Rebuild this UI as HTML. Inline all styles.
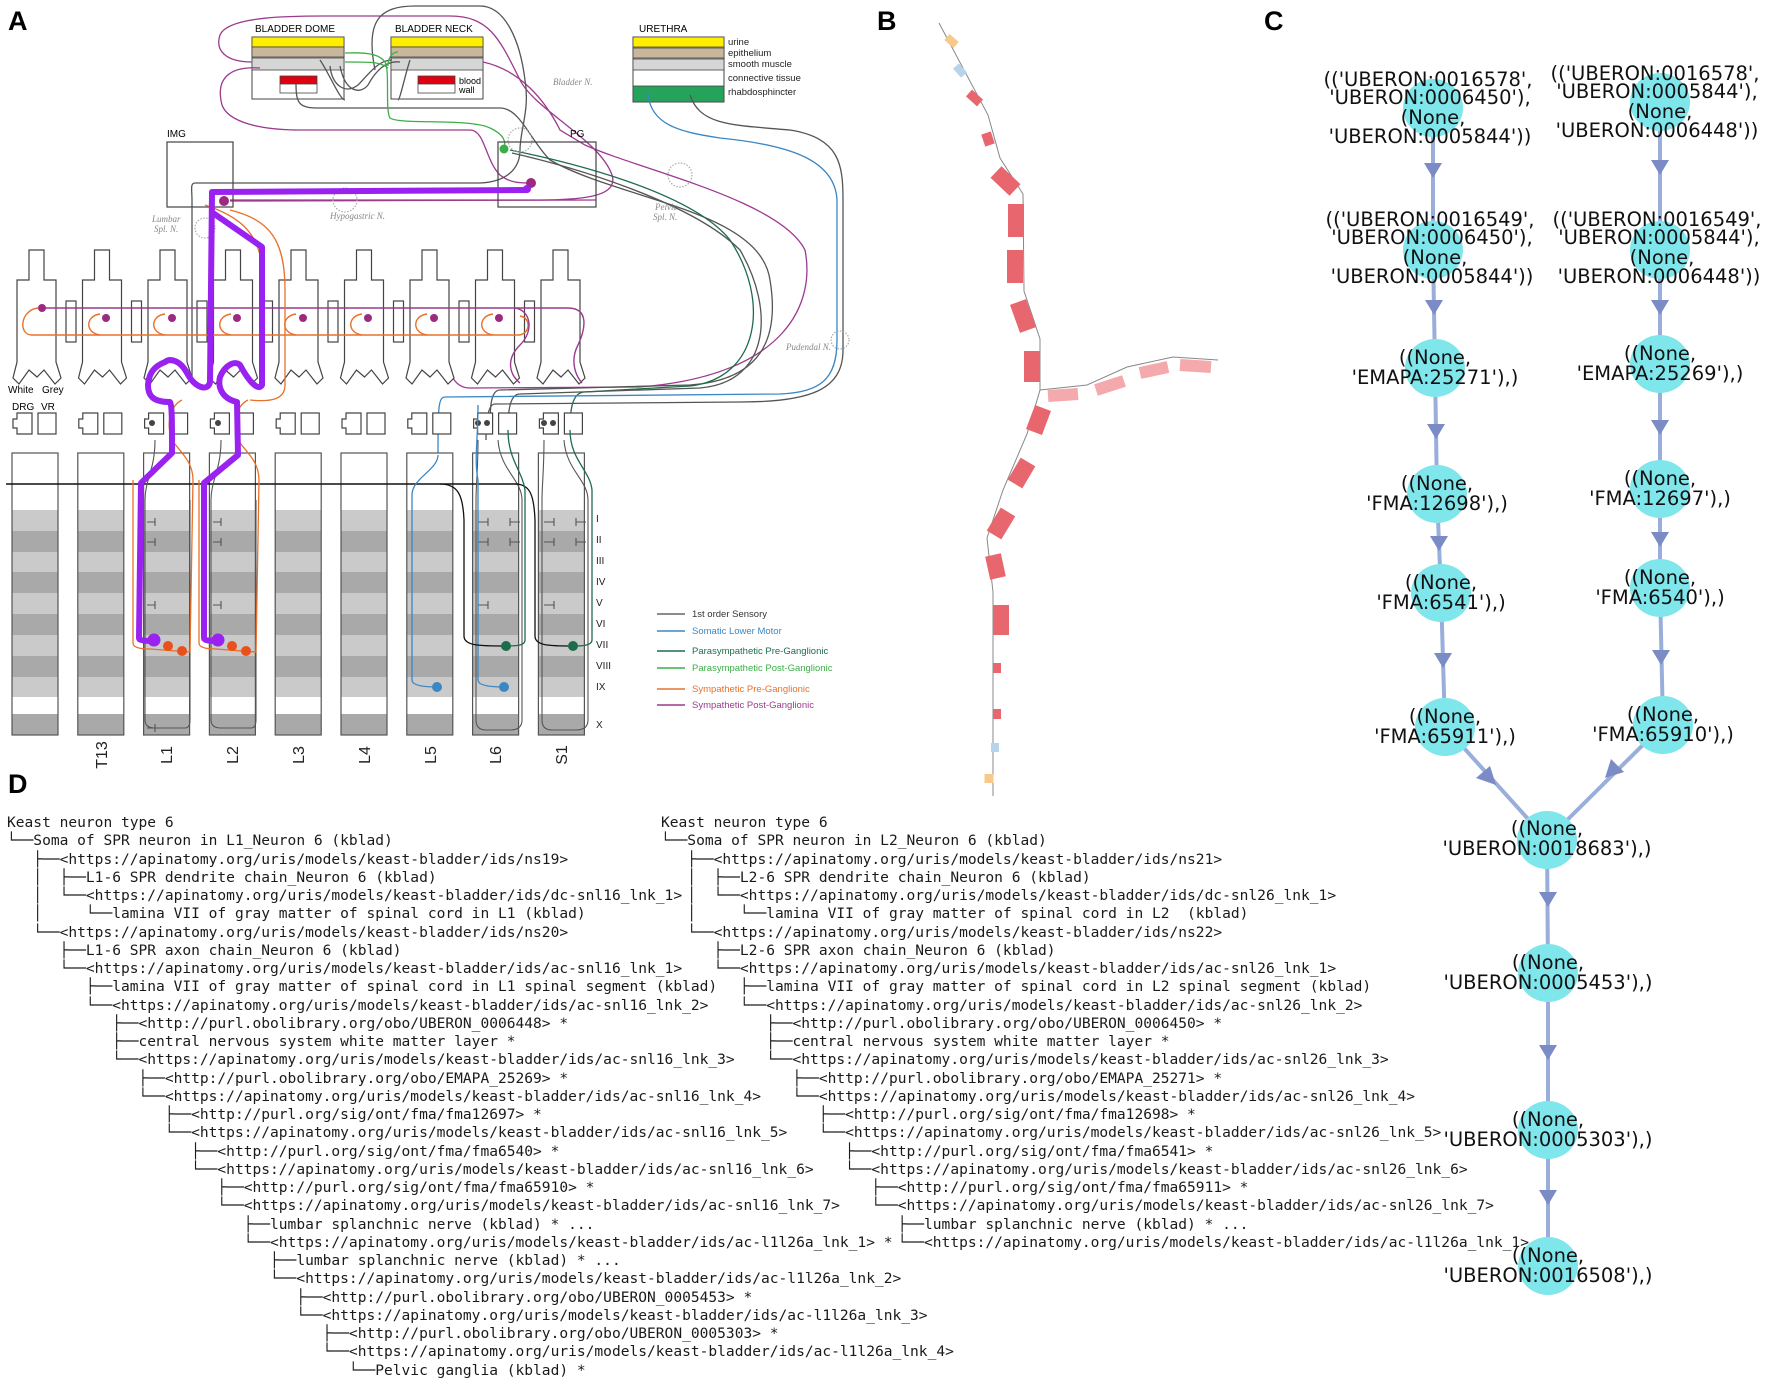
<!DOCTYPE html>
<html><head><meta charset="utf-8">
<style>
html,body{margin:0;padding:0;background:#fff;}
body{width:1772px;height:1385px;position:relative;overflow:hidden;}
svg{position:absolute;left:0;top:0;}
pre{position:absolute;margin:0;font-family:"DejaVu Sans Mono","Liberation Mono",monospace;font-size:14.57px;line-height:18.25px;color:#1a1a1a;}
</style></head><body>
<svg width="1772" height="1385" viewBox="0 0 1772 1385" xmlns="http://www.w3.org/2000/svg" font-family="Liberation Sans, DejaVu Sans, sans-serif">
<defs>
<g id="col">
<rect x="0" y="453" width="46" height="282" fill="#fff"/>
<rect x="0" y="510" width="46" height="21" fill="#cacaca"/>
<rect x="0" y="531" width="46" height="21" fill="#a9a9a9"/>
<rect x="0" y="552" width="46" height="20" fill="#cacaca"/>
<rect x="0" y="572" width="46" height="21" fill="#a9a9a9"/>
<rect x="0" y="593" width="46" height="21" fill="#cacaca"/>
<rect x="0" y="614" width="46" height="21" fill="#a9a9a9"/>
<rect x="0" y="635" width="46" height="21" fill="#cacaca"/>
<rect x="0" y="656" width="46" height="21" fill="#a9a9a9"/>
<rect x="0" y="677" width="46" height="20" fill="#cacaca"/>
<rect x="0" y="714" width="46" height="21" fill="#a9a9a9"/>
<rect x="0" y="453" width="46" height="282" fill="none" stroke="#555" stroke-width="1.2"/>
</g>
<path id="seg" d="M12,250 H27 V280 H39 V362 L44,378 L38,384 L27,370 L20,377 L12,370 L2,384 L-4,378 L0,362 V280 H12 Z" fill="#fff" stroke="#444" stroke-width="1.2"/>
<g id="drg">
<path d="M5,413 H20 V434 H5 V428 H1 V419 H5 Z" fill="#fff" stroke="#444" stroke-width="1.2"/>
<rect x="26" y="413" width="18" height="21" fill="#fff" stroke="#444" stroke-width="1.2"/>
</g>
</defs>

<text x="8" y="30" font-size="27" font-weight="bold">A</text>
<text x="877" y="30" font-size="27" font-weight="bold">B</text>
<text x="1264" y="30" font-size="27" font-weight="bold">C</text>
<text x="8" y="793" font-size="27" font-weight="bold">D</text>

<!-- ========== PANEL A ========== -->
<text x="255" y="32" font-size="10">BLADDER DOME</text>
<rect x="252" y="37" width="92" height="62" fill="#fff" stroke="#444"/>
<rect x="252" y="37" width="92" height="10" fill="#ffee00" stroke="#444" stroke-width="0.8"/>
<rect x="252" y="47" width="92" height="10" fill="#c8b79a" stroke="#444" stroke-width="0.8"/>
<rect x="252" y="58" width="92" height="12" fill="#d6d6d6" stroke="#444" stroke-width="0.8"/>
<rect x="280" y="76" width="37" height="8" fill="#e00010" stroke="#444" stroke-width="0.8"/>
<rect x="280" y="84" width="37" height="9" fill="#fff" stroke="#444" stroke-width="0.8"/>
<text x="395" y="32" font-size="10">BLADDER NECK</text>
<rect x="391" y="37" width="92" height="62" fill="#fff" stroke="#444"/>
<rect x="391" y="37" width="92" height="10" fill="#ffee00" stroke="#444" stroke-width="0.8"/>
<rect x="391" y="47" width="92" height="10" fill="#c8b79a" stroke="#444" stroke-width="0.8"/>
<rect x="391" y="58" width="92" height="12" fill="#d6d6d6" stroke="#444" stroke-width="0.8"/>
<rect x="418" y="76" width="37" height="8" fill="#e00010" stroke="#444" stroke-width="0.8"/>
<rect x="418" y="84" width="37" height="9" fill="#fff" stroke="#444" stroke-width="0.8"/>
<text x="459" y="84" font-size="9">blood</text>
<text x="459" y="93" font-size="9">wall</text>
<text x="639" y="32" font-size="10">URETHRA</text>
<rect x="633" y="37" width="91" height="65" fill="#fff" stroke="#444"/>
<rect x="633" y="37" width="91" height="10" fill="#ffee00" stroke="#444" stroke-width="0.8"/>
<rect x="633" y="48" width="91" height="10" fill="#c8b79a" stroke="#444" stroke-width="0.8"/>
<rect x="633" y="59" width="91" height="11" fill="#d6d6d6" stroke="#444" stroke-width="0.8"/>
<rect x="633" y="86" width="91" height="16" fill="#26a35a" stroke="#444" stroke-width="0.8"/>
<g font-size="9.5" fill="#222">
<text x="728" y="45">urine</text><text x="728" y="56">epithelium</text><text x="728" y="67">smooth muscle</text><text x="728" y="81">connective tissue</text><text x="728" y="95">rhabdosphincter</text>
</g>

<g fill="none" stroke-width="1.3">
<path d="M252,62 C225,62 215,50 220,35 C228,15 300,16 330,16 L450,16 C490,16 500,40 520,80 C535,110 600,140 612,175 C620,200 570,200 525,200 L230,200" stroke="#9c3a8e"/>
<path d="M260,68 C230,66 215,78 222,105 C228,122 260,130 300,130 L470,130 C485,130 485,160 500,175 C510,183 520,183 530,183" stroke="#9c3a8e"/>
<path d="M483,62 C520,70 545,100 560,130 L585,145 C640,170 780,200 805,250 C815,300 790,375 640,387 L470,388 C452,388 450,370 440,350" stroke="#9c3a8e"/>
<path d="M375,70 C365,20 380,6 415,6 L480,6 C505,6 520,40 525,80 C530,110 520,130 520,150 C520,170 505,182 480,183 L195,183 C190,183 192,190 192,200 L192,383" stroke="#555"/>
<path d="M296,84 C296,105 300,108 320,108 L500,108 C520,108 530,140 550,160 C620,200 760,210 770,280 C780,340 760,380 690,385 L500,390 C490,390 490,410 490,430" stroke="#555"/>
<path d="M330,66 C332,85 345,95 358,85 C368,75 378,60 392,60" stroke="#555"/>
<path d="M340,66 C345,92 360,95 368,85 C375,72 385,60 400,62" stroke="#555"/>
<path d="M320,60 C330,75 340,100 345,100 M410,60 C405,75 400,100 398,100" stroke="#555"/>
<path d="M345,53 C370,52 380,55 385,62 C390,70 385,110 390,118 C400,125 470,118 490,128 C505,135 506,142 504,149" stroke="#3cae48"/>
<path d="M345,62 C375,62 380,62 388,68 M398,52 C392,52 388,58 388,66" stroke="#3cae48"/>
<path d="M510,150 C560,160 690,190 730,240 C770,300 760,378 690,386 L585,392 C572,392 570,410 570,430" stroke="#1d6d4a"/>
<path d="M512,153 C565,165 690,200 740,250 C775,310 770,382 700,388 L520,394 C510,394 508,410 508,430" stroke="#555"/>
<path d="M648,93 C650,125 680,132 720,138 C790,145 835,160 837,200 L837,340 C837,380 820,392 780,394 L445,397 C438,397 438,410 438,455" stroke="#3b87c4"/>
<path d="M690,95 C700,125 730,125 790,130 C840,138 843,165 843,200 L843,350 C843,390 810,402 740,402 L495,404 C488,404 486,420 486,440" stroke="#555"/>
<path d="M596,200 C530,200 300,201 230,201" stroke="#9c3a8e"/>
</g>
<text x="167" y="137" font-size="10">IMG</text>
<rect x="167" y="142" width="66" height="65" fill="none" stroke="#444" stroke-width="1.2"/>
<text x="570" y="137" font-size="10">PG</text>
<rect x="498" y="142" width="98" height="65" fill="none" stroke="#444" stroke-width="1.2"/>
<circle cx="504" cy="149" r="4.5" fill="#3cae48"/>
<circle cx="531" cy="183" r="5" fill="#9c2a80"/>
<circle cx="224" cy="201" r="5" fill="#9c2a80"/>
<g font-family="Liberation Serif, serif" font-style="italic" font-size="9" fill="#888">
<text x="553" y="85">Bladder N.</text>
<text x="330" y="219">Hypogastric N.</text>
<text x="152" y="222">Lumbar</text><text x="154" y="232">Spl. N.</text>
<text x="655" y="210">Pelvic</text><text x="653" y="220">Spl. N.</text>
<text x="786" y="350">Pudendal N.</text>
</g>
<g fill="none" stroke="#aaa" stroke-width="1.2" stroke-dasharray="1.5,1.5">
<circle cx="345" cy="200" r="12"/><circle cx="205" cy="228" r="10"/><circle cx="680" cy="175" r="12"/><circle cx="520" cy="140" r="12"/><circle cx="840" cy="340" r="9"/>
</g>

<g>
<use href="#seg" x="17"/><use href="#seg" x="82.5"/><use href="#seg" x="148"/><use href="#seg" x="213.5"/><use href="#seg" x="279"/><use href="#seg" x="344.5"/><use href="#seg" x="410"/><use href="#seg" x="475.5"/><use href="#seg" x="541"/>
</g>
<g fill="#fff" stroke="#444" stroke-width="1.2">
<rect x="66" y="301" width="10" height="41"/><rect x="131.5" y="301" width="10" height="41"/><rect x="197" y="301" width="10" height="41"/><rect x="262.5" y="301" width="10" height="41"/><rect x="328" y="301" width="10" height="41"/><rect x="393.5" y="301" width="10" height="41"/><rect x="459" y="301" width="10" height="41"/><rect x="524.5" y="301" width="10" height="41"/>
</g>
<g fill="none" stroke-width="1.4">
<path d="M42,308 L568,308 C590,308 585,330 578,345 C570,360 575,375 582,383" stroke="#9c3a8e"/>
<path d="M38,308 C20,310 18,335 32,335 L518,335 C530,335 532,318 520,316" stroke="#e8702a"/>
<path d="M165,314 C150,316 150,333 165,335 M231,314 C216,316 216,333 231,335 M296,314 C281,316 281,333 296,335 M362,314 C347,316 347,333 362,335 M427,314 C412,316 412,333 427,335 M493,314 C478,316 478,333 493,335 M100,314 C85,316 85,333 100,335" stroke="#e8702a"/>
<path d="M515,308 C530,310 535,330 520,345 C505,360 510,375 520,383" stroke="#9c3a8e"/>
</g>
<g fill="#9c2a80">
<circle cx="42" cy="308" r="4"/><circle cx="106" cy="318" r="4"/><circle cx="172" cy="318" r="4"/><circle cx="237" cy="318" r="4"/><circle cx="303" cy="318" r="4"/><circle cx="368" cy="318" r="4"/><circle cx="434" cy="318" r="4"/><circle cx="499" cy="318" r="4"/>
</g>
<text x="8" y="393" font-size="10">White</text><text x="42" y="393" font-size="10">Grey</text>
<text x="12" y="410" font-size="10">DRG</text><text x="41" y="410" font-size="10">VR</text>

<g>
<use href="#drg" x="12"/><use href="#drg" x="77.8"/><use href="#drg" x="143.6"/><use href="#drg" x="209.4"/><use href="#drg" x="275.2"/><use href="#drg" x="341"/><use href="#drg" x="406.8"/><use href="#drg" x="472.6"/><use href="#drg" x="538.4"/>
</g>
<g fill="#444"><circle cx="152" cy="423" r="3"/><circle cx="218" cy="423" r="3"/><circle cx="478" cy="423" r="3"/><circle cx="487" cy="423" r="3"/><circle cx="544" cy="423" r="3"/><circle cx="553" cy="423" r="3"/></g>

<g>
<use href="#col" x="12"/><use href="#col" x="77.8"/><use href="#col" x="143.6"/><use href="#col" x="209.4"/><use href="#col" x="275.2"/><use href="#col" x="341"/><use href="#col" x="406.8"/><use href="#col" x="472.6"/><use href="#col" x="538.4"/>
</g>
<line x1="6" y1="484" x2="518" y2="484" stroke="#111" stroke-width="1.4"/>
<g fill="none" stroke="#555" stroke-width="1.1">
<path d="M155,440 C155,470 145,480 145,500 L145,720 Q145,728 155,728 L185,728 Q190,728 190,720 L190,500"/>
<path d="M221,440 C221,470 211,480 211,500 L211,720 Q211,728 221,728 L251,728 Q256,728 256,720 L256,500"/>
<path d="M478,440 C478,470 476,485 476,500 L476,720 Q476,730 486,730 L510,730 Q522,730 522,720 L522,500 C522,480 500,470 498,440"/>
<path d="M544,440 C544,470 542,485 542,500 L542,720 Q542,730 552,730 L576,730 Q588,730 588,720 L588,500 C588,480 566,470 564,440"/>
<path d="M147,522 h8 m0,-4 v8 M147,542 h8 m0,-4 v8 M147,605 h8 m0,-4 v8 M147,728 h8 m0,-4 v8 M213,522 h8 m0,-4 v8 M213,542 h8 m0,-4 v8 M213,605 h8 m0,-4 v8 M478,522 h10 m0,-4 v8 M478,542 h10 m0,-4 v8 M478,605 h10 m0,-4 v8 M510,522 h10 m-10,-4 v8 M510,542 h10 m-10,-4 v8 M544,522 h10 m0,-4 v8 M544,542 h10 m0,-4 v8 M544,605 h10 m0,-4 v8 M576,522 h10 m-10,-4 v8 M576,542 h10 m-10,-4 v8"/>
</g>
<g fill="none" stroke-width="1.3">
<path d="M438,455 C438,470 412,478 412,495 L412,680 Q412,687 437,687" stroke="#3b87c4"/>
<path d="M478,405 C478,440 474,460 478,480 L478,680 Q478,687 504,687" stroke="#3b87c4"/>
<path d="M440,484 C458,484 463,495 464,520 L464,636 C464,646 480,646 506,646" stroke="#111"/>
<path d="M515,484 C530,484 534,495 535,520 L535,636 C535,646 550,646 573,646" stroke="#111"/>
<path d="M508,430 C508,460 522,470 525,490 L525,640 C525,646 515,646 506,646" stroke="#1d6d4a"/>
<path d="M570,430 C570,460 590,470 592,490 L592,640 C592,646 580,646 573,646" stroke="#1d6d4a"/>
<path d="M205,205 C235,215 260,230 262,270 L262,300 M230,210 C270,220 285,240 285,290 L285,385 C285,400 270,402 250,400" stroke="#e8702a"/>
<path d="M133,480 L133,643 Q133,649 150,649 L190,652 L193,480 C193,460 178,450 172,440 C165,420 172,405 182,400 M199,480 L199,643 Q199,649 216,649 L256,652 L259,480 C259,460 244,450 238,440 C231,420 238,405 248,400" stroke="#e8702a"/>
</g>
<g fill="#e8501c"><circle cx="168" cy="646" r="5"/><circle cx="182" cy="651" r="5"/><circle cx="232" cy="646" r="5"/><circle cx="246" cy="651" r="5"/></g>
<g fill="#3b87c4"><circle cx="437" cy="687" r="5"/><circle cx="504" cy="687" r="5"/></g>
<g fill="#1d6d4a"><circle cx="506" cy="646" r="5"/><circle cx="573" cy="646" r="5"/></g>

<g fill="none" stroke="#9a22f0" stroke-width="6" stroke-linejoin="round" stroke-linecap="round">
<path d="M527,190 L212,192 L210,382 C208,392 195,388 187,373 C180,360 170,358 165,362 C155,366 149,372 148,385 C148,395 152,402 170,402 C172,405 172,420 172,453 L141,483 L139,638 Q139,641 152,641"/>
<path d="M213,213 L262,247 L262,385 C258,392 248,380 240,365 C235,360 225,365 220,377 C218,385 220,398 237,402 L238,455 L204,483 L204,638 Q204,641 216,641"/>
</g>
<circle cx="154" cy="640" r="6.5" fill="#9a22f0"/><circle cx="218" cy="640" r="6.5" fill="#9a22f0"/>
<circle cx="527" cy="189" r="4" fill="#9a22f0"/>

<g font-size="10" fill="#222">
<text x="596" y="522">I</text><text x="596" y="543">II</text><text x="596" y="564">III</text><text x="596" y="585">IV</text><text x="596" y="606">V</text><text x="596" y="627">VI</text><text x="596" y="648">VII</text><text x="596" y="669">VIII</text><text x="596" y="690">IX</text><text x="596" y="728">X</text>
</g>
<g font-size="16" fill="#222" text-anchor="middle">
<text transform="translate(107,755) rotate(-90)">T13</text>
<text transform="translate(172,755) rotate(-90)">L1</text>
<text transform="translate(238,755) rotate(-90)">L2</text>
<text transform="translate(304,755) rotate(-90)">L3</text>
<text transform="translate(370,755) rotate(-90)">L4</text>
<text transform="translate(436,755) rotate(-90)">L5</text>
<text transform="translate(501,755) rotate(-90)">L6</text>
<text transform="translate(567,755) rotate(-90)">S1</text>
</g>
<g stroke-width="1.6">
<line x1="657" y1="614" x2="685" y2="614" stroke="#666"/>
<line x1="657" y1="631" x2="685" y2="631" stroke="#3b87c4"/>
<line x1="657" y1="651" x2="685" y2="651" stroke="#1d6d4a"/>
<line x1="657" y1="668" x2="685" y2="668" stroke="#3cae48"/>
<line x1="657" y1="689" x2="685" y2="689" stroke="#e8702a"/>
<line x1="657" y1="705" x2="685" y2="705" stroke="#9c3a8e"/>
</g>
<g font-size="9.5">
<text x="692" y="617" fill="#333">1st order Sensory</text>
<text x="692" y="634" fill="#3b87c4">Somatic Lower Motor</text>
<text x="692" y="654" fill="#1d6d4a">Parasympathetic Pre-Ganglionic</text>
<text x="692" y="671" fill="#3cae48">Parasympathetic Post-Ganglionic</text>
<text x="692" y="692" fill="#e8702a">Sympathetic Pre-Ganglionic</text>
<text x="692" y="708" fill="#9c3a8e">Sympathetic Post-Ganglionic</text>
</g>

<!-- ========== PANEL B ========== -->
<polyline points="939,23 988,115 1000,158 1023,194 1024,291 1040,339 1040,390 1027,434 1003,490 987,538 993,592 993,643 993,796" fill="none" stroke="#888" stroke-width="1"/>
<polyline points="1040,390 1087,385 1127,367 1173,357 1218,360" fill="none" stroke="#888" stroke-width="1"/>
<g stroke-linecap="butt">
<line x1="947" y1="37" x2="956" y2="45" stroke="#f7c98a" stroke-width="8"/>
<line x1="956" y1="66" x2="964" y2="75" stroke="#b8d4ea" stroke-width="8"/>
<line x1="969" y1="93" x2="980" y2="103" stroke="#e8666e" stroke-width="9"/>
<line x1="986" y1="133" x2="990" y2="145" stroke="#e8666e" stroke-width="10"/>
<line x1="996" y1="172" x2="1015" y2="190" stroke="#e8666e" stroke-width="16"/>
<line x1="1016" y1="204" x2="1016" y2="237" stroke="#e8666e" stroke-width="16"/>
<line x1="1015" y1="250" x2="1015" y2="283" stroke="#e8666e" stroke-width="16"/>
<line x1="1018" y1="302" x2="1028" y2="330" stroke="#e8666e" stroke-width="17"/>
<line x1="1032" y1="351" x2="1032" y2="382" stroke="#e8666e" stroke-width="16"/>
<line x1="1043" y1="408" x2="1034" y2="432" stroke="#e8666e" stroke-width="17"/>
<line x1="1028" y1="462" x2="1015" y2="484" stroke="#e8666e" stroke-width="17"/>
<line x1="1008" y1="512" x2="994" y2="535" stroke="#e8666e" stroke-width="17"/>
<line x1="993" y1="555" x2="998" y2="578" stroke="#e8666e" stroke-width="16"/>
<line x1="1001" y1="605" x2="1001" y2="635" stroke="#e8666e" stroke-width="16"/>
<line x1="997" y1="663" x2="997" y2="673" stroke="#e8666e" stroke-width="8"/>
<line x1="997" y1="709" x2="997" y2="719" stroke="#e8666e" stroke-width="8"/>
<line x1="995" y1="743" x2="995" y2="752" stroke="#b8d4ea" stroke-width="8"/>
<line x1="989" y1="774" x2="989" y2="783" stroke="#f7c98a" stroke-width="9"/>
<line x1="1048" y1="396" x2="1078" y2="394" stroke="#f4a9ad" stroke-width="12"/>
<line x1="1096" y1="390" x2="1124" y2="381" stroke="#f4a9ad" stroke-width="12"/>
<line x1="1140" y1="373" x2="1168" y2="367" stroke="#f4a9ad" stroke-width="12"/>
<line x1="1180" y1="365" x2="1211" y2="367" stroke="#f4a9ad" stroke-width="12"/>
</g>

<!-- ========== PANEL C ========== -->
<g stroke="#9aaedc" stroke-width="4" fill="none">
<polyline points="1433,108 1433,250 1435,368 1437,494 1441,593 1445,727 1547,840"/>
<polyline points="1660,102 1660,250 1660,364 1660,489 1660,588 1663,725 1547,840"/>
<polyline points="1547,840 1548,973 1548,1130 1548,1266"/>
</g>
<g fill="#7b8bc6">
<polygon points="1424,163 1442,163 1433,178"/>
<polygon points="1425,300 1443,300 1434,315"/>
<polygon points="1427,424 1445,424 1436,439"/>
<polygon points="1430,536 1448,536 1439,551"/>
<polygon points="1434,653 1452,653 1443,668"/>
<polygon points="1651,160 1669,160 1660,175"/>
<polygon points="1651,300 1669,300 1660,315"/>
<polygon points="1651,420 1669,420 1660,435"/>
<polygon points="1651,532 1669,532 1660,547"/>
<polygon points="1652,650 1670,650 1661,665"/>
<polygon points="1476,778 1490,766 1496,785"/>
<polygon points="1611,759 1624,772 1605,778"/>
<polygon points="1539,892 1557,892 1548,907"/>
<polygon points="1539,1045 1557,1045 1548,1060"/>
<polygon points="1539,1190 1557,1190 1548,1205"/>
</g>
<g fill="#7fe6ec">
<ellipse cx="1433" cy="108" rx="30" ry="29"/><ellipse cx="1433" cy="250" rx="30" ry="29"/><ellipse cx="1435" cy="368" rx="30" ry="29"/><ellipse cx="1437" cy="494" rx="30" ry="29"/><ellipse cx="1441" cy="593" rx="30" ry="29"/><ellipse cx="1445" cy="727" rx="30" ry="29"/>
<ellipse cx="1660" cy="102" rx="30" ry="29"/><ellipse cx="1660" cy="250" rx="30" ry="29"/><ellipse cx="1660" cy="364" rx="30" ry="29"/><ellipse cx="1660" cy="489" rx="30" ry="29"/><ellipse cx="1660" cy="588" rx="30" ry="29"/><ellipse cx="1663" cy="725" rx="30" ry="29"/>
<ellipse cx="1547" cy="840" rx="30" ry="29"/><ellipse cx="1548" cy="973" rx="30" ry="29"/><ellipse cx="1548" cy="1130" rx="30" ry="29"/><ellipse cx="1548" cy="1266" rx="30" ry="29"/>
</g>
<g font-family="DejaVu Sans, sans-serif" font-size="19.5" fill="#111" text-anchor="middle">
<text x="1428" y="86">(('UBERON:0016578',</text><text x="1430" y="104">'UBERON:0006450'),</text><text x="1433" y="124">(None,</text><text x="1430" y="143">'UBERON:0005844'))</text>
<text x="1655" y="80">(('UBERON:0016578',</text><text x="1657" y="98">'UBERON:0005844'),</text><text x="1660" y="118">(None,</text><text x="1657" y="137">'UBERON:0006448'))</text>
<text x="1430" y="226">(('UBERON:0016549',</text><text x="1432" y="244">'UBERON:0006450'),</text><text x="1435" y="264">(None,</text><text x="1432" y="283">'UBERON:0005844'))</text>
<text x="1657" y="226">(('UBERON:0016549',</text><text x="1659" y="244">'UBERON:0005844'),</text><text x="1662" y="264">(None,</text><text x="1659" y="283">'UBERON:0006448'))</text>
<text x="1435" y="364">((None,</text><text x="1435" y="384">'EMAPA:25271'),)</text>
<text x="1660" y="360">((None,</text><text x="1660" y="380">'EMAPA:25269'),)</text>
<text x="1437" y="490">((None,</text><text x="1437" y="510">'FMA:12698'),)</text>
<text x="1660" y="485">((None,</text><text x="1660" y="505">'FMA:12697'),)</text>
<text x="1441" y="589">((None,</text><text x="1441" y="609">'FMA:6541'),)</text>
<text x="1660" y="584">((None,</text><text x="1660" y="604">'FMA:6540'),)</text>
<text x="1445" y="723">((None,</text><text x="1445" y="743">'FMA:65911'),)</text>
<text x="1663" y="721">((None,</text><text x="1663" y="741">'FMA:65910'),)</text>
<text x="1547" y="835">((None,</text><text x="1547" y="855">'UBERON:0018683'),)</text>
<text x="1548" y="969">((None,</text><text x="1548" y="989">'UBERON:0005453'),)</text>
<text x="1548" y="1126">((None,</text><text x="1548" y="1146">'UBERON:0005303'),)</text>
<text x="1548" y="1262">((None,</text><text x="1548" y="1282">'UBERON:0016508'),)</text>
</g>
</svg>

<pre style="left:7px;top:814px;">Keast neuron type 6
└──Soma of SPR neuron in L1_Neuron 6 (kblad)
   ├──&lt;https://apinatomy.org/uris/models/keast-bladder/ids/ns19&gt;
   │  ├──L1-6 SPR dendrite chain_Neuron 6 (kblad)
   │  └──&lt;https://apinatomy.org/uris/models/keast-bladder/ids/dc-snl16_lnk_1&gt;
   │     └──lamina VII of gray matter of spinal cord in L1 (kblad)
   └──&lt;https://apinatomy.org/uris/models/keast-bladder/ids/ns20&gt;
      ├──L1-6 SPR axon chain_Neuron 6 (kblad)
      └──&lt;https://apinatomy.org/uris/models/keast-bladder/ids/ac-snl16_lnk_1&gt;
         ├──lamina VII of gray matter of spinal cord in L1 spinal segment (kblad)
         └──&lt;https://apinatomy.org/uris/models/keast-bladder/ids/ac-snl16_lnk_2&gt;
            ├──&lt;http://purl.obolibrary.org/obo/UBERON_0006448&gt; *
            ├──central nervous system white matter layer *
            └──&lt;https://apinatomy.org/uris/models/keast-bladder/ids/ac-snl16_lnk_3&gt;
               ├──&lt;http://purl.obolibrary.org/obo/EMAPA_25269&gt; *
               └──&lt;https://apinatomy.org/uris/models/keast-bladder/ids/ac-snl16_lnk_4&gt;
                  ├──&lt;http://purl.org/sig/ont/fma/fma12697&gt; *
                  └──&lt;https://apinatomy.org/uris/models/keast-bladder/ids/ac-snl16_lnk_5&gt;
                     ├──&lt;http://purl.org/sig/ont/fma/fma6540&gt; *
                     └──&lt;https://apinatomy.org/uris/models/keast-bladder/ids/ac-snl16_lnk_6&gt;
                        ├──&lt;http://purl.org/sig/ont/fma/fma65910&gt; *
                        └──&lt;https://apinatomy.org/uris/models/keast-bladder/ids/ac-snl16_lnk_7&gt;
                           ├──lumbar splanchnic nerve (kblad) * ...
                           └──&lt;https://apinatomy.org/uris/models/keast-bladder/ids/ac-l1l26a_lnk_1&gt; *
                              ├──lumbar splanchnic nerve (kblad) * ...
                              └──&lt;https://apinatomy.org/uris/models/keast-bladder/ids/ac-l1l26a_lnk_2&gt;
                                 ├──&lt;http://purl.obolibrary.org/obo/UBERON_0005453&gt; *
                                 └──&lt;https://apinatomy.org/uris/models/keast-bladder/ids/ac-l1l26a_lnk_3&gt;
                                    ├──&lt;http://purl.obolibrary.org/obo/UBERON_0005303&gt; *
                                    └──&lt;https://apinatomy.org/uris/models/keast-bladder/ids/ac-l1l26a_lnk_4&gt;
                                       └──Pelvic ganglia (kblad) *</pre>

<pre style="left:661px;top:814px;">Keast neuron type 6
└──Soma of SPR neuron in L2_Neuron 6 (kblad)
   ├──&lt;https://apinatomy.org/uris/models/keast-bladder/ids/ns21&gt;
   │  ├──L2-6 SPR dendrite chain_Neuron 6 (kblad)
   │  └──&lt;https://apinatomy.org/uris/models/keast-bladder/ids/dc-snl26_lnk_1&gt;
   │     └──lamina VII of gray matter of spinal cord in L2  (kblad)
   └──&lt;https://apinatomy.org/uris/models/keast-bladder/ids/ns22&gt;
      ├──L2-6 SPR axon chain_Neuron 6 (kblad)
      └──&lt;https://apinatomy.org/uris/models/keast-bladder/ids/ac-snl26_lnk_1&gt;
         ├──lamina VII of gray matter of spinal cord in L2 spinal segment (kblad)
         └──&lt;https://apinatomy.org/uris/models/keast-bladder/ids/ac-snl26_lnk_2&gt;
            ├──&lt;http://purl.obolibrary.org/obo/UBERON_0006450&gt; *
            ├──central nervous system white matter layer *
            └──&lt;https://apinatomy.org/uris/models/keast-bladder/ids/ac-snl26_lnk_3&gt;
               ├──&lt;http://purl.obolibrary.org/obo/EMAPA_25271&gt; *
               └──&lt;https://apinatomy.org/uris/models/keast-bladder/ids/ac-snl26_lnk_4&gt;
                  ├──&lt;http://purl.org/sig/ont/fma/fma12698&gt; *
                  └──&lt;https://apinatomy.org/uris/models/keast-bladder/ids/ac-snl26_lnk_5&gt;
                     ├──&lt;http://purl.org/sig/ont/fma/fma6541&gt; *
                     └──&lt;https://apinatomy.org/uris/models/keast-bladder/ids/ac-snl26_lnk_6&gt;
                        ├──&lt;http://purl.org/sig/ont/fma/fma65911&gt; *
                        └──&lt;https://apinatomy.org/uris/models/keast-bladder/ids/ac-snl26_lnk_7&gt;
                           ├──lumbar splanchnic nerve (kblad) * ...
                           └──&lt;https://apinatomy.org/uris/models/keast-bladder/ids/ac-l1l26a_lnk_1&gt;</pre>
</body></html>
